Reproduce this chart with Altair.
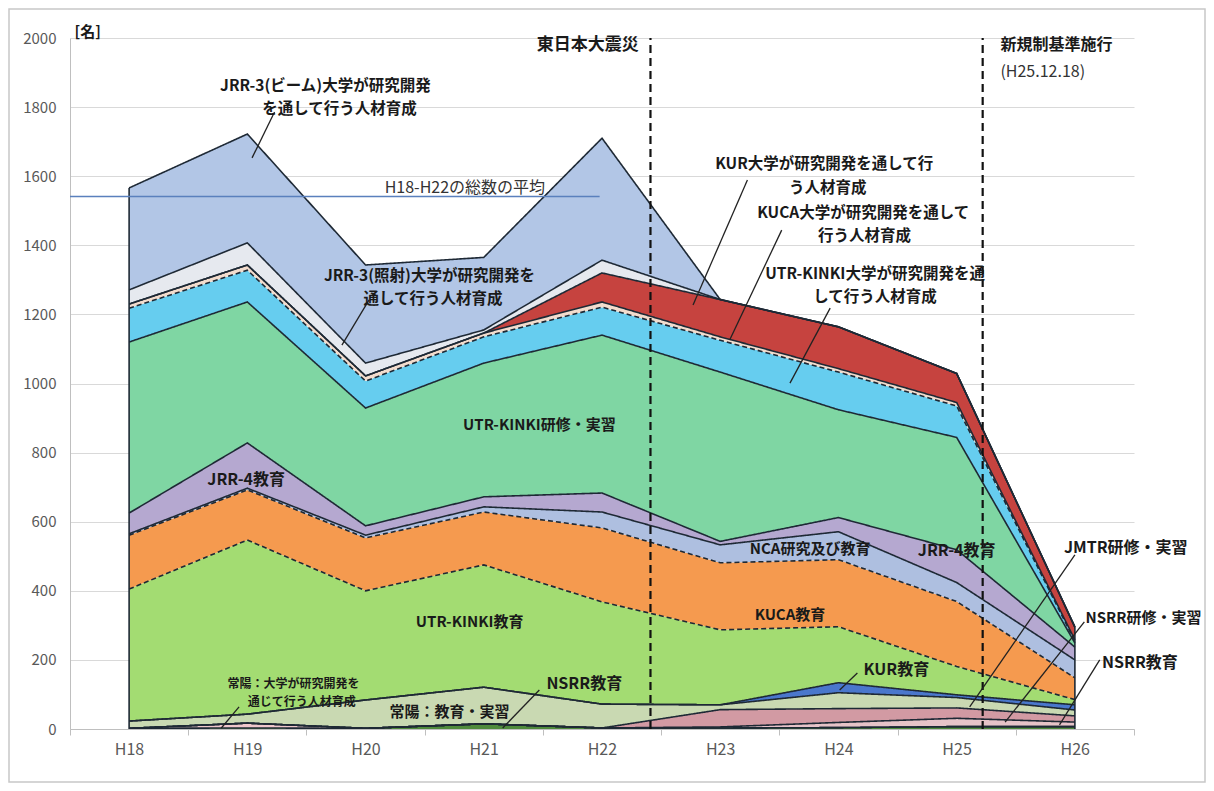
import altair as alt
import pandas as pd

years = ["H18", "H19", "H20", "H21", "H22", "H23", "H24", "H25", "H26"]

# series, bottom to top of the stack
names = [
    "NSRR教育",
    "常陽：大学が研究開発を通じて行う人材育成",
    "NSRR研修・実習",
    "JMTR研修・実習",
    "常陽：教育・実習",
    "KUR教育",
    "UTR-KINKI教育",
    "KUCA教育",
    "NCA研究及び教育",
    "JRR-4教育",
    "UTR-KINKI研修・実習",
    "UTR-KINKI大学が研究開発を通して行う人材育成",
    "KUCA大学が研究開発を通して行う人材育成",
    "KUR大学が研究開発を通して行う人材育成",
    "JRR-3(照射)大学が研究開発を通して行う人材育成",
    "JRR-3(ビーム)大学が研究開発を通して行う人材育成",
]
nsrr_edu   = [2, 3, 2, 15, 3, 3, 4, 7, 7]
joyo_univ  = [0, 14, 0, 0, 0, 0, 0, 0, 0]
nsrr_train = [0, 0, 0, 0, 0, 3, 15, 24, 13]
jmtr_train = [0, 0, 0, 0, 0, 50, 40, 30, 18]
joyo_edu   = [21, 26, 82, 106, 69, 14, 46, 30, 17]
kur_edu    = [0, 0, 0, 0, 0, 0, 29, 8, 15]
utr_edu    = [382, 504, 316, 354, 296, 217, 162, 82, 15]
kuca_edu   = [156, 145, 153, 153, 214, 194, 194, 188, 63]
nca        = [4, 5, 8, 15, 46, 52, 81, 55, 52]
jrr4       = [60, 131, 27, 29, 55, 10, 41, 95, 37]
utr_train  = [495, 408, 341, 387, 457, 490, 312, 325, 12]
utr_univ   = [98, 92, 78, 76, 81, 92, 109, 91, 5]
kuca_univ  = [12, 15, 15, 11, 15, 10, 10, 10, 4]
kur_univ   = [0, 0, 0, 0, 84, 108, 121, 84, 37]
jrr3_irr   = [41, 64, 37, 9, 37, 0, 0, 0, 0]
jrr3_beam  = [295, 315, 284, 210, 353, 0, 0, 0, 0]

series_values = [nsrr_edu, joyo_univ, nsrr_train, jmtr_train, joyo_edu, kur_edu,
                 utr_edu, kuca_edu, nca, jrr4, utr_train, utr_univ, kuca_univ,
                 kur_univ, jrr3_irr, jrr3_beam]

colors = ["#4f8a3c", "#efc7cb", "#e6c3c8", "#d29aa3", "#c9d9b2", "#4a77cc",
          "#a3dc72", "#f59a4f", "#aebfe0", "#b5a8d0", "#7fd6a3", "#66cdef",
          "#f3dccd", "#c6433f", "#e6e9ef", "#b2c6e6"]
dashed_tops = {"UTR-KINKI教育", "KUCA教育", "UTR-KINKI大学が研究開発を通して行う人材育成"}

rows = []
cum = [0] * len(years)
for name, vals in zip(names, series_values):
    for i, v in enumerate(vals):
        rows.append(dict(series=name, idx=i, year=years[i], lo=cum[i], hi=cum[i] + v,
                         dash="dashed" if name in dashed_tops else "solid"))
    cum = [c + v for c, v in zip(cum, vals)]
df = pd.DataFrame(rows)
totals = cum
avg = sum(totals[:5]) / 5

edge_df = pd.DataFrame({"idx": [0, len(years) - 1], "lo": [0, 0],
                        "hi": [totals[0], totals[-1]]})
avg_df = pd.DataFrame({"x": [-0.5], "x2": [3.98], "y": [avg]})
event_df = pd.DataFrame({"x": [4.41, 7.22], "y": [0, 0], "y2": [2000, 2000]})

# annotation labels: x, y, text, size, weight, align
ann = [
    (1.66, 1861, "JRR-3(ビーム)大学が研究開発", 15.5, "bold", "center"),
    (1.78, 1795, "を通して行う人材育成", 15.5, "bold", "center"),
    (2.84, 1566, "H18-H22の総数の平均", 16, "normal", "center"),
    (2.54, 1311, "JRR-3(照射)大学が研究開発を", 15.5, "bold", "center"),
    (2.57, 1245, "通して行う人材育成", 15.5, "bold", "center"),
    (3.47, 880, "UTR-KINKI研修・実習", 15, "bold", "center"),
    (0.99, 721, "JRR-4教育", 16, "bold", "center"),
    (2.88, 310, "UTR-KINKI教育", 15, "bold", "center"),
    (1.39, 131, "常陽：大学が研究開発を", 12, "bold", "center"),
    (1.46, 78, "通じて行う人材育成", 12, "bold", "center"),
    (2.71, 49, "常陽：教育・実習", 15, "bold", "center"),
    (3.85, 130, "NSRR教育", 16, "bold", "center"),
    (5.88, 1635, "KUR大学が研究開発を通して行", 15.5, "bold", "center"),
    (5.91, 1566, "う人材育成", 15.5, "bold", "center"),
    (6.21, 1493, "KUCA大学が研究開発を通して", 15.5, "bold", "center"),
    (6.22, 1427, "行う人材育成", 15.5, "bold", "center"),
    (6.31, 1317, "UTR-KINKI大学が研究開発を通", 15.5, "bold", "center"),
    (6.31, 1250, "して行う人材育成", 15.5, "bold", "center"),
    (5.76, 521, "NCA研究及び教育", 15, "bold", "center"),
    (7.00, 515, "JRR-4教育", 16, "bold", "center"),
    (5.59, 330, "KUCA教育", 15, "bold", "center"),
    (6.49, 171, "KUR教育", 16, "bold", "center"),
    (8.43, 524, "JMTR研修・実習", 16, "bold", "center"),
    (8.58, 321, "NSRR研修・実習", 15, "bold", "center"),
    (8.55, 191, "NSRR教育", 16, "bold", "center"),
    (3.88, 1980, "東日本大震災", 17, "bold", "center"),
    (7.37, 1980, "新規制基準施行", 16, "bold", "left"),
    (7.37, 1902, "(H25.12.18)", 16, "normal", "left"),
    (-0.35, 2017, "[名]", 15, "bold", "center"),
]
ann_df = pd.DataFrame(ann, columns=["px", "py", "label", "fs", "fw", "al"])

leaders = [
    (1.23, 1786, 1.04, 1653),
    (2.03, 1242, 1.80, 1111),
    (0.93, 64, 0.78, 3),
    (3.47, 113, 3.16, 3),
    (5.23, 1589, 4.77, 1227),
    (5.52, 1444, 5.08, 1126),
    (5.93, 1218, 5.59, 1001),
    (6.16, 162, 6.01, 113),
    (8.00, 504, 7.11, 64),
    (8.08, 310, 7.41, 20),
    (8.21, 200, 7.87, 12),
]
lead_df = pd.DataFrame(leaders, columns=["x", "y", "x2", "y2"])

FONT = "Noto Sans CJK JP"
x_scale = alt.Scale(domain=[-0.5, len(years) - 0.5], nice=False, zero=False)
y_scale = alt.Scale(domain=[0, 2000], nice=False)
label_list = "[" + ",".join("'%s'" % y for y in years) + ",'']"
x_axis = alt.Axis(values=[i - 0.5 for i in range(len(years) + 1)],
                  labelExpr=label_list + "[round(datum.value + 0.5)]",
                  labelOffset=59, labelFlush=False, labelOverlap=False, labelBound=False,
                  grid=False, ticks=True, tickSize=6, tickColor="#bfbfbf",
                  domainColor="#bfbfbf", labelColor="#595959", labelFontSize=16,
                  labelFont=FONT, labelPadding=6, title=None)
y_axis = alt.Axis(values=list(range(0, 2001, 200)), format="d", grid=True, gridColor="#d9d9d9",
                  ticks=False, domainColor="#bfbfbf", labelColor="#595959",
                  labelFontSize=15, labelFont=FONT, labelPadding=14, title=None)

areas = alt.Chart(df).mark_area(interpolate="linear", opacity=1).encode(
    x=alt.X("idx:Q", scale=x_scale, axis=x_axis),
    y=alt.Y("hi:Q", scale=y_scale, axis=y_axis),
    y2="lo:Q",
    color=alt.Color("series:N", scale=alt.Scale(domain=names, range=colors), legend=None),
)

lines = alt.Chart(df).mark_line(color="#1e2935", strokeWidth=1.6).encode(
    x="idx:Q", y="hi:Q", detail="series:N",
    strokeDash=alt.StrokeDash("dash:N", scale=alt.Scale(domain=["solid", "dashed"],
                                                        range=[[1, 0], [5, 3]]), legend=None),
)

edges = alt.Chart(edge_df).mark_rule(color="#1e2935", strokeWidth=1.6).encode(
    x="idx:Q", y="lo:Q", y2="hi:Q")

avg_rule = alt.Chart(avg_df).mark_rule(color="#5a80bd", strokeWidth=1.5).encode(
    x="x:Q", x2="x2:Q", y="y:Q")

events = alt.Chart(event_df).mark_rule(color="#111111", strokeWidth=2.2,
                                       strokeDash=[8, 5]).encode(
    x="x:Q", y="y:Q", y2="y2:Q")

leads = alt.Chart(lead_df).mark_rule(color="#222222", strokeWidth=1.3).encode(
    x="x:Q", y="y:Q", x2="x2:Q", y2="y2:Q")

text_layers = []
for (fs, fw, al), sub in ann_df.groupby(["fs", "fw", "al"]):
    sub = sub.reset_index(drop=True)
    text_layers.append(
        alt.Chart(sub).mark_text(font=FONT, fontWeight=fw, align=al, fontSize=float(fs),
                                 baseline="middle",
                                 color="#1a1a1a" if fw == "bold" else "#333333").encode(
            x="px:Q", y="py:Q", text="label:N")
    )

frame = alt.Chart(pd.DataFrame({"a": [0]})).mark_rect(
    filled=False, stroke="#c8c8c8", strokeWidth=1.5).encode(
    x=alt.value(-61), x2=alt.value(1135), y=alt.value(-29), y2=alt.value(744))

chart = alt.layer(areas, lines, edges, avg_rule, events, leads, *text_layers, frame).properties(
    width=1064, height=691,
    padding={"left": 62, "top": 30, "right": 72, "bottom": 54},
    autosize=alt.AutoSizeParams(type="none"),
    background="white",
).configure_view(stroke=None)

chart.save("out.html", embed_options={"renderer": "svg", "actions": False})
